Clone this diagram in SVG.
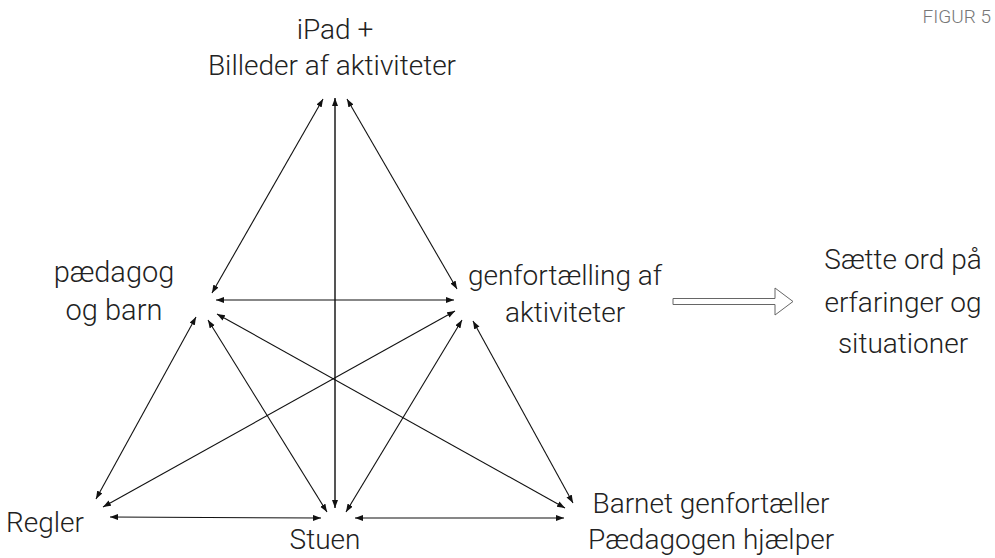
<svg xmlns="http://www.w3.org/2000/svg" width="995" height="558" viewBox="0 0 995 558">
<style>
text{font-family:Roboto,"Liberation Sans",sans-serif;font-weight:300;fill:#222;font-size:28px;text-anchor:middle}
.fig{font-size:19px;fill:#777;text-anchor:end}
.c{stroke:#111;stroke-width:1.1;fill:none;marker-start:url(#ah);marker-end:url(#ah)}
.v{stroke:#555;stroke-width:2}
</style>
<defs>
<marker id="ah" markerUnits="userSpaceOnUse" markerWidth="9" markerHeight="7" refX="8" refY="3" orient="auto-start-reverse" viewBox="0 0 9 7">
<path d="M0,0 L8,3 L0,6 z" fill="#111"/>
</marker>
</defs>
<rect width="995" height="558" fill="#fff"/>
<text class="fig" x="991" y="23">FIGUR 5</text>
<g id="ipad"><text x="335" y="39">iPad +</text><text x="332" y="75">Billeder af aktiviteter</text></g>
<g id="paedagog"><text x="114" y="282" style="font-size:29px">pædagog</text><text x="114" y="320" style="font-size:29px">og barn</text></g>
<g id="genfortaelling"><text x="565" y="285">genfortælling af</text><text x="565" y="322">aktiviteter</text></g>
<g id="saette"><text x="903" y="269">Sætte ord på</text><text x="903" y="312">erfaringer og</text><text x="903" y="353">situationer</text></g>
<g id="regler"><text x="45" y="532">Regler</text></g>
<g id="stuen"><text x="325" y="549">Stuen</text></g>
<g id="barnet"><text x="711" y="513">Barnet genfortæller</text><text x="711" y="549">Pædagogen hjælper</text></g>
<g id="connectors">
<line class="c" x1="323" y1="99" x2="212" y2="293"/>
<line class="c" x1="347" y1="99" x2="457" y2="289"/>
<line class="c v" x1="335" y1="98" x2="335" y2="508"/>
<line class="c" x1="216" y1="300" x2="454" y2="300"/>
<line class="c" x1="196" y1="317" x2="96" y2="499"/>
<line class="c" x1="208" y1="320" x2="327" y2="512"/>
<line class="c" x1="217" y1="314" x2="565" y2="508"/>
<line class="c" x1="455" y1="311" x2="103" y2="507"/>
<line class="c" x1="462" y1="320" x2="346" y2="512"/>
<line class="c" x1="473" y1="321" x2="573" y2="503"/>
<line class="c" x1="110" y1="517" x2="321" y2="518"/>
<line class="c" x1="355" y1="518" x2="564" y2="518"/>
<polygon points="673,298.5 775,298.5 775,288 793,301.5 775,315 775,304.5 673,304.5" fill="#fff" stroke="#666" stroke-width="1"/>
</g>
</svg>
